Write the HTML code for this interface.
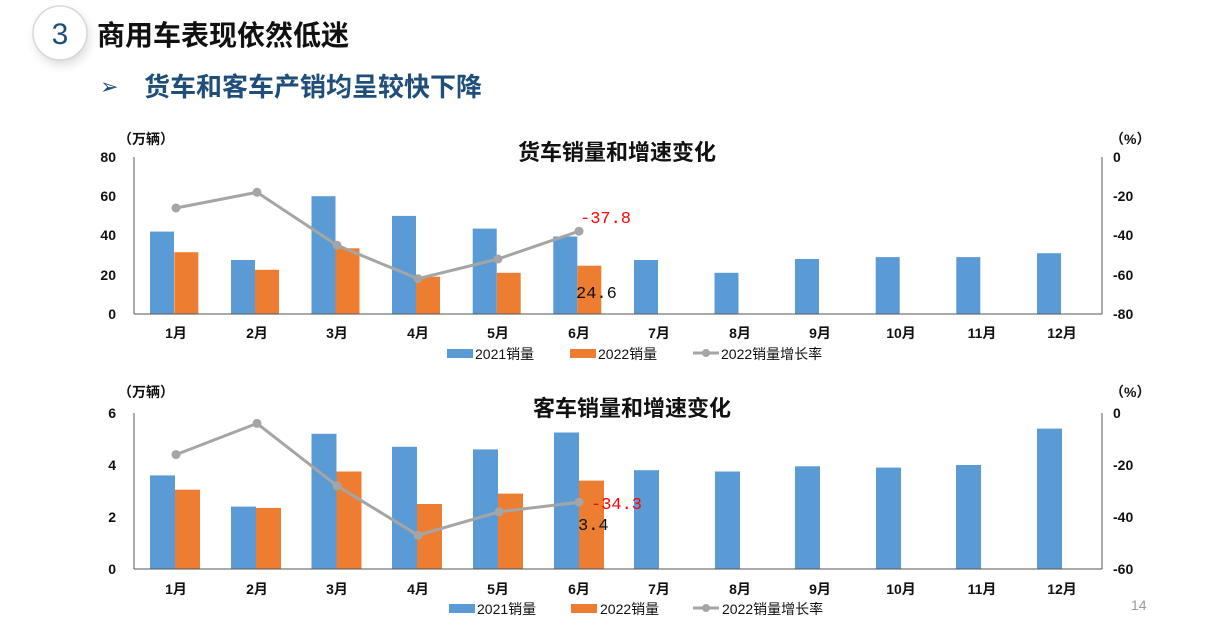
<!DOCTYPE html>
<html><head><meta charset="utf-8"><style>
body{margin:0;width:1210px;height:631px;background:#fff;overflow:hidden;font-family:"Liberation Sans","Noto Sans CJK SC",sans-serif;}
svg text{font-family:"Liberation Sans","Noto Sans CJK SC",sans-serif;}
svg text.m{font-family:"Liberation Mono",monospace;}
</style></head><body>
<svg width="1210" height="631" viewBox="0 0 1210 631">
<defs><radialGradient id="sh" cx="0.5" cy="0.5" r="0.5"><stop offset="0.6" stop-color="#ccc"/><stop offset="1" stop-color="#fff" stop-opacity="0"/></radialGradient></defs>
<circle cx="62" cy="38" r="38" fill="url(#sh)" opacity="0.6"/>
<circle cx="60" cy="33" r="27" fill="#fff" stroke="#d8d8d8" stroke-width="1.5"/>
<text x="60" y="44" font-size="30" fill="#1f4e79" text-anchor="middle">3</text>
<text x="97" y="45" font-size="28" font-weight="bold" fill="#111">商用车表现依然低迷</text>
<text x="100" y="94" font-size="22" fill="#1f4e79">➢</text>
<text x="144" y="96" font-size="26" font-weight="bold" fill="#1f4e79">货车和客车产销均呈较快下降</text>

<!-- chart 1 -->
<g font-size="14" font-weight="bold" fill="#111">
<text x="118" y="144">（万辆）</text>
<text x="1110" y="144">（%）</text>
<text x="617" y="160" font-size="22" text-anchor="middle">货车销量和增速变化</text>
<g text-anchor="end"><text x="116" y="162">80</text><text x="116" y="201">60</text><text x="116" y="240">40</text><text x="116" y="280">20</text><text x="116" y="319">0</text></g>
<g><text x="1113" y="162">0</text><text x="1113" y="201">-20</text><text x="1113" y="240">-40</text><text x="1113" y="280">-60</text><text x="1113" y="319">-80</text></g>
</g>
<g fill="#5b9bd5">
<rect x="150" y="231.6" width="24" height="82.4"/><rect x="231" y="260" width="24" height="54"/><rect x="311.5" y="196.2" width="24" height="117.8"/><rect x="392" y="215.9" width="24" height="98.1"/><rect x="472.7" y="228.6" width="24" height="85.4"/><rect x="553.3" y="236.5" width="24" height="77.5"/><rect x="634" y="260" width="24" height="54"/><rect x="714.5" y="272.8" width="24" height="41.2"/><rect x="795" y="259" width="24" height="55"/><rect x="875.7" y="257.1" width="24" height="56.9"/><rect x="956.3" y="257.1" width="24" height="56.9"/><rect x="1037" y="253.2" width="24" height="60.8"/>
</g>
<g fill="#ed7d31">
<rect x="174.3" y="252.2" width="24" height="61.8"/><rect x="255" y="269.8" width="24" height="44.2"/><rect x="335.5" y="248.3" width="24" height="65.7"/><rect x="416" y="276.7" width="24" height="37.3"/><rect x="496.7" y="272.8" width="24" height="41.2"/><rect x="577.3" y="265.7" width="24" height="48.3"/>
</g>
<line x1="134" y1="157" x2="134" y2="314" stroke="#555"/><line x1="1102" y1="157" x2="1102" y2="314" stroke="#555"/>
<line x1="134" y1="314" x2="1102" y2="314" stroke="#555"/>
<polyline points="176,208 257,192.3 337,245.3 418,278.7 498,259 579,231.2" fill="none" stroke="#a5a5a5" stroke-width="3"/>
<g fill="#a5a5a5"><circle cx="176" cy="208" r="4.5"/><circle cx="257" cy="192.3" r="4.5"/><circle cx="337" cy="245.3" r="4.5"/><circle cx="418" cy="278.7" r="4.5"/><circle cx="498" cy="259" r="4.5"/><circle cx="579" cy="231.2" r="4.5"/></g>
<text class="m" x="580" y="223" font-size="17" fill="#f00">-37.8</text>
<text class="m" x="576" y="298" font-size="17" fill="#111">24.6</text>
<g font-size="14" font-weight="bold" fill="#111" text-anchor="middle">
<text x="176" y="338">1月</text><text x="257" y="338">2月</text><text x="337" y="338">3月</text><text x="418" y="338">4月</text><text x="498" y="338">5月</text><text x="579" y="338">6月</text><text x="659" y="338">7月</text><text x="740" y="338">8月</text><text x="820" y="338">9月</text><text x="901" y="338">10月</text><text x="982" y="338">11月</text><text x="1062" y="338">12月</text>
</g>
<g font-size="14" fill="#111">
<rect x="447" y="349" width="26" height="9" fill="#5b9bd5"/><text x="475" y="359">2021销量</text>
<rect x="570" y="349" width="26" height="9" fill="#ed7d31"/><text x="598" y="359">2022销量</text>
<line x1="693" y1="353" x2="719" y2="353" stroke="#a5a5a5" stroke-width="3"/><circle cx="706" cy="353" r="4" fill="#a5a5a5"/><text x="721" y="359">2022销量增长率</text>
</g>

<!-- chart 2 -->
<g font-size="14" font-weight="bold" fill="#111">
<text x="118" y="397">（万辆）</text>
<text x="1110" y="397">（%）</text>
<text x="632" y="416" font-size="22" text-anchor="middle">客车销量和增速变化</text>
<g text-anchor="end"><text x="116" y="418">6</text><text x="116" y="470">4</text><text x="116" y="522">2</text><text x="116" y="574">0</text></g>
<g><text x="1113" y="418">0</text><text x="1113" y="470">-20</text><text x="1113" y="522">-40</text><text x="1113" y="574">-60</text></g>
</g>
<g fill="#5b9bd5">
<rect x="150" y="475.4" width="25" height="93.6"/><rect x="231" y="506.6" width="25" height="62.4"/><rect x="311.5" y="433.8" width="25" height="135.2"/><rect x="392" y="446.8" width="25" height="122.2"/><rect x="473" y="449.4" width="25" height="119.6"/><rect x="554" y="432.5" width="25" height="136.5"/><rect x="634" y="470.2" width="25" height="98.8"/><rect x="715" y="471.5" width="25" height="97.5"/><rect x="795" y="466.3" width="25" height="102.7"/><rect x="876" y="467.6" width="25" height="101.4"/><rect x="956" y="465" width="25" height="104"/><rect x="1037" y="428.6" width="25" height="140.4"/>
</g>
<g fill="#ed7d31">
<rect x="175" y="489.7" width="25" height="79.3"/><rect x="256" y="507.9" width="25" height="61.1"/><rect x="336.5" y="471.5" width="25" height="97.5"/><rect x="417" y="504" width="25" height="65"/><rect x="498" y="493.6" width="25" height="75.4"/><rect x="579" y="480.6" width="25" height="88.4"/>
</g>
<line x1="134" y1="413" x2="134" y2="569" stroke="#555"/><line x1="1102" y1="413" x2="1102" y2="569" stroke="#555"/>
<line x1="134" y1="569" x2="1102" y2="569" stroke="#555"/>
<polyline points="176,454.6 257,423.4 337,485.8 418,535.2 499,511.8 579,502.2" fill="none" stroke="#a5a5a5" stroke-width="3"/>
<g fill="#a5a5a5"><circle cx="176" cy="454.6" r="4.5"/><circle cx="257" cy="423.4" r="4.5"/><circle cx="337" cy="485.8" r="4.5"/><circle cx="418" cy="535.2" r="4.5"/><circle cx="499" cy="511.8" r="4.5"/><circle cx="579" cy="502.2" r="4.5"/></g>
<text class="m" x="591" y="509" font-size="17" fill="#f00">-34.3</text>
<text class="m" x="578" y="530" font-size="17" fill="#111">3.4</text>
<g font-size="14" font-weight="bold" fill="#111" text-anchor="middle">
<text x="176" y="594">1月</text><text x="257" y="594">2月</text><text x="337" y="594">3月</text><text x="418" y="594">4月</text><text x="498" y="594">5月</text><text x="579" y="594">6月</text><text x="659" y="594">7月</text><text x="740" y="594">8月</text><text x="820" y="594">9月</text><text x="901" y="594">10月</text><text x="982" y="594">11月</text><text x="1062" y="594">12月</text>
</g>
<g font-size="14" fill="#111">
<rect x="449" y="604" width="26" height="9" fill="#5b9bd5"/><text x="477" y="614">2021销量</text>
<rect x="571" y="604" width="26" height="9" fill="#ed7d31"/><text x="600" y="614">2022销量</text>
<line x1="693" y1="608" x2="719" y2="608" stroke="#a5a5a5" stroke-width="3"/><circle cx="706" cy="608" r="4" fill="#a5a5a5"/><text x="722" y="614">2022销量增长率</text>
</g>
<text x="1131" y="610" font-size="14" fill="#999">14</text>
</svg>
</body></html>
